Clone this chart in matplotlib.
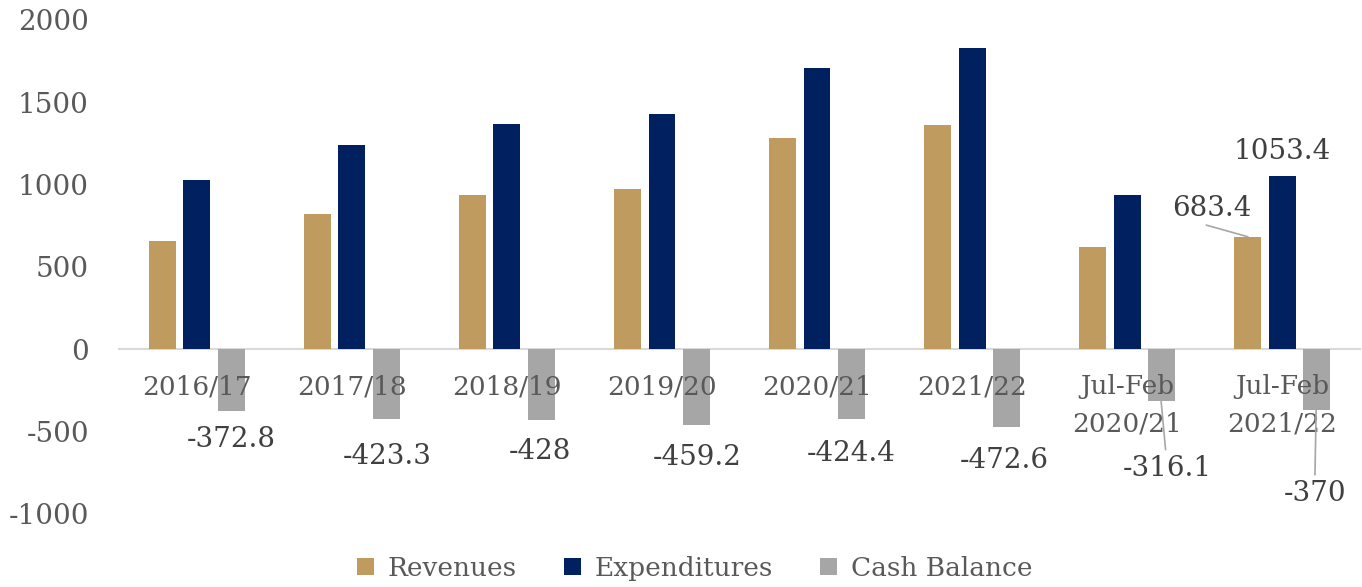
import matplotlib
matplotlib.use("Agg")
from matplotlib import pyplot as plt
import numpy as np

# Data
categories = ["2016/17", "2017/18", "2018/19", "2019/20", "2020/21", "2021/22",
              "Jul-Feb\n2020/21", "Jul-Feb\n2021/22"]
revenues = [659, 821, 939, 973, 1285, 1360, 623, 683.4]
expenditures = [1030, 1241, 1366, 1431, 1708, 1832, 939, 1053.4]
cash_balance = [-372.8, -423.3, -428, -459.2, -424.4, -472.6, -316.1, -370]

# label positions (data coords) for the cash balance values
cash_label_x = [0.22, 1.23, 2.21, 3.23, 4.22, 5.21, 6.26, 7.21]
cash_label_y = [-550, -653, -623, -659, -635, -677, -725, -878]

c_rev = '#BF9B5F'
c_exp = '#00205F'
c_cash = '#A6A6A6'
tick_col = '#595959'
lab_col = '#404040'

plt.rcParams['font.family'] = ['DejaVu Serif']
plt.rcParams['axes.unicode_minus'] = False

fig = plt.figure(figsize=(13.62, 5.87), dpi=100)
ax = fig.add_axes([0.0877, 0.1244, 0.9105, 0.8416])
ax.set_axisbelow(False)

x = np.arange(len(categories))
w = 0.174
off = 0.22
ax.bar(x - off, revenues, w, color=c_rev, label='Revenues', zorder=2)
ax.bar(x, expenditures, w, color=c_exp, label='Expenditures', zorder=2)
ax.bar(x + off, cash_balance, w, color=c_cash, label='Cash Balance', zorder=2)

ax.set_xlim(-0.5, len(categories) - 0.5)
ax.set_ylim(-1000, 2000)
ax.set_yticks([-1000, -500, 0, 500, 1000, 1500, 2000])

for s in ['top', 'right', 'left']:
    ax.spines[s].set_visible(False)
ax.spines['bottom'].set_position(('data', 0))
ax.spines['bottom'].set_color('#D9D9D9')
ax.spines['bottom'].set_linewidth(1.5)
ax.spines['bottom'].set_zorder(1)

ax.set_xticks(x)
ax.set_xticklabels(categories, linespacing=1.6)
ax.tick_params(axis='x', length=0, pad=18, labelsize=19, labelcolor=tick_col)
ax.tick_params(axis='y', length=0, pad=22, labelsize=20, labelcolor=tick_col)

# cash balance labels
for i, v in enumerate(cash_balance):
    if i < 6:
        ax.text(cash_label_x[i], cash_label_y[i], "{0:g}".format(v), ha='center',
                va='center', fontsize=20, color=lab_col, zorder=4)
    else:
        ax.annotate("{0:g}".format(v), xy=(x[i] + off, v),
                    xytext=(cash_label_x[i], cash_label_y[i]),
                    ha='center', va='center', fontsize=20, color=lab_col,
                    arrowprops=dict(arrowstyle='-', color='#A6A6A6', lw=1.2,
                                    shrinkA=2, shrinkB=0), zorder=4)

# last group labels
ax.annotate("683.4", xy=(x[7] - off, revenues[7]), xytext=(6.55, 853),
            ha='center', va='center', fontsize=20, color=lab_col,
            arrowprops=dict(arrowstyle='-', color='#A6A6A6', lw=1.2,
                            shrinkA=0, shrinkB=0, relpos=(0.3, 0.0)))
ax.text(7.0, 1200, "1053.4", ha='center', va='center', fontsize=20, color=lab_col)

fig.legend(loc='lower center', bbox_to_anchor=(0.51, -0.03), ncol=3,
           frameon=False, fontsize=19, labelcolor=tick_col,
           handlelength=0.65, handleheight=0.65, handletextpad=0.5,
           columnspacing=1.8)

plt.savefig('out.png', dpi=100)
